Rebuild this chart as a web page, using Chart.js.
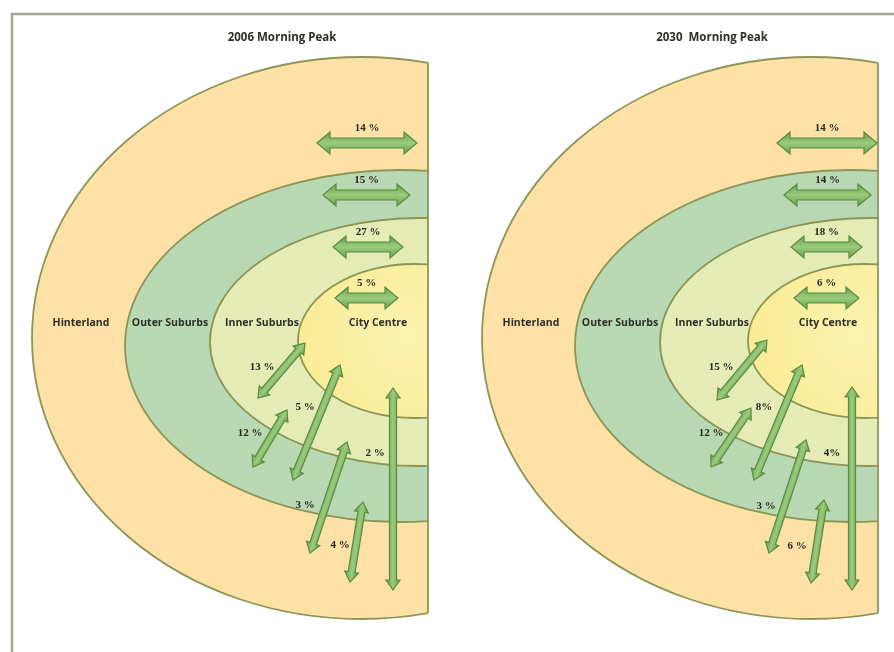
<!DOCTYPE html>
<html>
<head>
<meta charset="utf-8">
<script src="https://cdn.jsdelivr.net/npm/chart.js@4.4.1/dist/chart.umd.min.js"></script>
<style>
	html, body { margin: 0; padding: 0; background: #fff; }
	#wrap { width: 894px; height: 652px; }
</style>
</head>
<body>
<div id="wrap"><canvas id="diagram" width="894" height="652"></canvas></div>
<script>
// Zones, from the outside in.
const zones = [ 'Hinterland', 'Outer Suburbs', 'Inner Suburbs', 'City Centre' ];
const panelTitles = [ '2006 Morning Peak', '2030  Morning Peak' ];

// Trips that stay inside a zone (outside -> in).
const within2006 = [ 14, 15, 27, 5 ];
const within2030 = [ 14, 14, 18, 6 ];

// Trips between zones: City-Inner, Inner-Outer, City-Outer, Inner-Hinterland, Outer-Hinterland, City-Hinterland.
const between2006 = [ 13, 12, 5, 3, 4, 2 ];
const between2030 = [ 15, 12, 8, 3, 6, 4 ];
const tight2030 = [ false, false, true, false, false, true ]; // printed without the space

// ---- layout (reference pixels) ----
const panelShift = [ 0, 450 ];
const edgeX = 428;
const rings = [
	{ cx: 361, cy: 338, rx: 329, ry: 281 },
	{ cx: 400, cy: 346, rx: 275, ry: 176 },
	{ cx: 420, cy: 342, rx: 210, ry: 124 },
	{ cx: 415, cy: 341, rx: 117, ry: 77 }
];
const ringFill = [ '#fde1a6', '#b8d9b3', '#e5ecb6', '#fbec96' ];
const zoneLabelX = [ 81, 170, 262, 378 ];
const zoneLabelY = 323;
const titleX = [ 282, 712 ];
const titleY = 38;

const withinRowY = [ 143, 195, 247, 298 ];
const withinSpan = [
	[ [ 317, 417 ], [ 323, 410 ], [ 333, 403 ], [ 335, 398 ] ],
	[ [ 777, 877 ], [ 784, 871 ], [ 791, 862 ], [ 794, 859 ] ]
];
const betweenEnds = [
	[ [ 305, 343, 258, 398 ], [ 287, 410, 253, 467 ], [ 340, 365, 293, 480 ],
	  [ 347, 442, 310, 553 ], [ 363, 502, 350, 582 ], [ 393, 388, 393, 590 ] ],
	[ [ 767, 340, 717, 400 ], [ 751, 408, 711, 467 ], [ 802, 365, 754, 480 ],
	  [ 806, 440, 769, 553 ], [ 824, 500, 811, 583 ], [ 852, 387, 852, 590 ] ]
];
const betweenLabel = [
	[ [ 262, 367 ], [ 250, 433 ], [ 305, 407 ], [ 305, 505 ], [ 340, 545 ], [ 375, 453 ] ],
	[ [ 721, 367 ], [ 711, 433 ], [ 764, 407 ], [ 766, 506 ], [ 797, 546 ], [ 832, 453 ] ]
];

function pct( v, tight ) {
	return tight ? v + '%' : v + ' %';
}

function buildDatasets() {
	const sets = [];
	const withinVals = [ within2006, within2030 ];
	const betweenVals = [ between2006, between2030 ];
	for ( let p = 0; p < 2; p++ ) {
		let pts = [], labels = [], labelPos = [];
		withinVals[ p ].forEach( function ( v, i ) {
			const s = withinSpan[ p ][ i ];
			pts.push( { x: s[ 0 ], y: withinRowY[ i ] }, { x: s[ 1 ], y: withinRowY[ i ] } );
			labels.push( pct( v, false ) );
			labelPos.push( [ ( s[ 0 ] + s[ 1 ] ) / 2, withinRowY[ i ] - 15 ] );
		} );
		sets.push( { kind: 'within', data: pts, labels: labels, labelPos: labelPos } );

		pts = []; labels = []; labelPos = [];
		betweenVals[ p ].forEach( function ( v, i ) {
			const e = betweenEnds[ p ][ i ];
			pts.push( { x: e[ 0 ], y: e[ 1 ] }, { x: e[ 2 ], y: e[ 3 ] } );
			labels.push( pct( v, p === 1 && tight2030[ i ] ) );
			labelPos.push( betweenLabel[ p ][ i ] );
		} );
		sets.push( { kind: 'between', data: pts, labels: labels, labelPos: labelPos } );
	}
	sets.forEach( function ( d ) {
		d.showLine = false;
		d.pointRadius = 0;
		d.pointHoverRadius = 0;
	} );
	return sets;
}

function drawArrow( ctx, x1, y1, x2, y2, w, h, L ) {
	const len = Math.hypot( x2 - x1, y2 - y1 );
	ctx.save();
	ctx.translate( x1, y1 );
	ctx.rotate( Math.atan2( y2 - y1, x2 - x1 ) );
	const g = ctx.createLinearGradient( 0, -h, 0, h );
	g.addColorStop( 0, '#65a04b' );
	g.addColorStop( 0.5, '#9ccc7e' );
	g.addColorStop( 1, '#65a04b' );
	ctx.beginPath();
	ctx.moveTo( 0, 0 );
	ctx.lineTo( L, -h );
	ctx.lineTo( L, -w );
	ctx.lineTo( len - L, -w );
	ctx.lineTo( len - L, -h );
	ctx.lineTo( len, 0 );
	ctx.lineTo( len - L, h );
	ctx.lineTo( len - L, w );
	ctx.lineTo( L, w );
	ctx.lineTo( L, h );
	ctx.closePath();
	ctx.fillStyle = g;
	ctx.fill();
	ctx.strokeStyle = '#5a8b40';
	ctx.lineWidth = 1.2;
	ctx.stroke();
	ctx.restore();
}

const ringsPlugin = {
	id: 'rings',
	beforeDatasetsDraw: function ( chart ) {
		const ctx = chart.ctx, xs = chart.scales.x, ys = chart.scales.y;
		const kx = xs.getPixelForValue( 1 ) - xs.getPixelForValue( 0 );
		const ky = ys.getPixelForValue( 1 ) - ys.getPixelForValue( 0 );

		// frame
		ctx.save();
		ctx.strokeStyle = '#a3a596';
		ctx.lineWidth = 2.5;
		ctx.strokeRect( xs.getPixelForValue( 12 ), ys.getPixelForValue( 14 ), 900 * kx, 650 * ky );
		ctx.restore();

		for ( let p = 0; p < 2; p++ ) {
			const dx = panelShift[ p ];
			const ex = xs.getPixelForValue( edgeX + dx );
			ctx.save();
			ctx.beginPath();
			ctx.rect( 0, 0, ex, chart.height );
			ctx.clip();
			rings.forEach( function ( r, i ) {
				const cx = xs.getPixelForValue( r.cx + dx ), cy = ys.getPixelForValue( r.cy );
				ctx.beginPath();
				ctx.ellipse( cx, cy, r.rx * kx, r.ry * ky, 0, 0, Math.PI * 2 );
				if ( i === 3 ) {
					const g = ctx.createRadialGradient( cx - 10, cy - 5, 5, cx, cy, r.rx * kx );
					g.addColorStop( 0, '#fcf3b0' );
					g.addColorStop( 1, ringFill[ 3 ] );
					ctx.fillStyle = g;
				} else {
					ctx.fillStyle = ringFill[ i ];
				}
				ctx.fill();
				ctx.strokeStyle = '#8b9656';
				ctx.lineWidth = 1.8;
				ctx.stroke();
			} );
			ctx.restore();

			// straight right edge
			const o = rings[ 0 ];
			const t = ( edgeX - o.cx ) / o.rx;
			const half = o.ry * Math.sqrt( 1 - t * t );
			ctx.save();
			ctx.strokeStyle = '#8b9656';
			ctx.lineWidth = 1.8;
			ctx.beginPath();
			ctx.moveTo( ex, ys.getPixelForValue( o.cy - half ) );
			ctx.lineTo( ex, ys.getPixelForValue( o.cy + half ) );
			ctx.stroke();

			// zone names and title
			ctx.fillStyle = '#2e2e26';
			ctx.textAlign = 'center';
			ctx.textBaseline = 'middle';
			ctx.font = 'bold 10.5px "Open Sans"';
			zones.forEach( function ( z, i ) {
				ctx.fillText( z, xs.getPixelForValue( zoneLabelX[ i ] + dx ), ys.getPixelForValue( zoneLabelY ) );
			} );
			ctx.font = 'bold 11.5px "Open Sans"';
			ctx.fillText( panelTitles[ p ], xs.getPixelForValue( titleX[ p ] ), ys.getPixelForValue( titleY ) );
			ctx.restore();
		}
	},
	afterDatasetsDraw: function ( chart ) {
		const ctx = chart.ctx, xs = chart.scales.x, ys = chart.scales.y;
		chart.data.datasets.forEach( function ( ds, i ) {
			const pts = chart.getDatasetMeta( i ).data;
			const big = ds.kind === 'within';
			for ( let j = 0; j + 1 < pts.length; j += 2 ) {
				if ( big ) {
					drawArrow( ctx, pts[ j ].x, pts[ j ].y, pts[ j + 1 ].x, pts[ j + 1 ].y, 5, 11, 13 );
				} else {
					drawArrow( ctx, pts[ j ].x, pts[ j ].y, pts[ j + 1 ].x, pts[ j + 1 ].y, 3.5, 7, 10 );
				}
			}
			ctx.save();
			ctx.fillStyle = '#26261e';
			ctx.textAlign = 'center';
			ctx.textBaseline = 'middle';
			ctx.font = 'bold 11px "Liberation Serif"';
			ds.labels.forEach( function ( t, k ) {
				ctx.fillText( t, xs.getPixelForValue( ds.labelPos[ k ][ 0 ] ), ys.getPixelForValue( ds.labelPos[ k ][ 1 ] ) );
			} );
			ctx.restore();
		} );
	}
};

new Chart( 'diagram', {
	type: 'scatter',
	data: { datasets: buildDatasets() },
	options: {
		responsive: false,
		animation: false,
		events: [],
		layout: { padding: 0 },
		plugins: {
			legend: { display: false },
			tooltip: { enabled: false }
		},
		scales: {
			x: { type: 'linear', min: 0, max: 894, display: false },
			y: { type: 'linear', min: 0, max: 652, reverse: true, display: false }
		}
	},
	plugins: [ ringsPlugin ]
} );
</script>
</body>
</html>
